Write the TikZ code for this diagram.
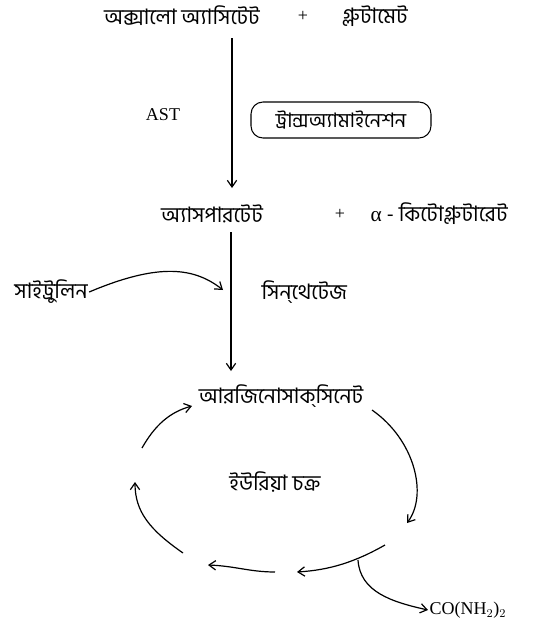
\documentclass[tikz,border=0pt]{standalone}
\usepackage{fontspec}
\setmainfont{Liberation Serif}
\newfontfamily\bnfont[Script=Bengali]{Hind Siliguri}
\usepackage{tikz}
\usetikzlibrary{arrows.meta, positioning}

\begin{document}
\begin{tikzpicture}[
    x=0.75pt, y=-0.75pt,
    bn/.style={font=\bnfont\fontsize{16}{18}\selectfont, inner sep=1pt},
    lat/.style={font=\fontsize{13.5}{15}\selectfont, inner sep=1pt},
    enzbox/.style={rectangle, draw=black, thick, rounded corners=9pt,
                   minimum width=135pt, minimum height=27pt, inner sep=2pt,
                   font=\bnfont\fontsize{15}{17}\selectfont},
    arrow/.style={-{Straight Barb[length=5pt, width=7pt]}, line width=0.9pt, draw=black}
]

\useasboundingbox (0,0) rectangle (544,629);

%% --- TRANSAMINATION STEP ---
\node[bn] (oxalo) at (182,16) {অক্সালো অ্যাসিটেট};
\node[lat] (plusa) at (303,16) {+};
\node[bn] (glut) at (375,16) {গ্লুটামেট};
\node[lat] (ast) at (163,115) {AST};
\node[enzbox] (trans) at (341,120) {ট্রান্সঅ্যামাইনেশন};

%% --- PRODUCTS ---
\node[bn] (asp) at (212,214) {অ্যাসপারটেট};
\node[lat] (plusb) at (340,214) {+};
\node[bn, anchor=west] (akg) at (369,214) {{\rmfamily α} - কিটোগ্লুটারেট};

%% --- SYNTHETASE STEP ---
\node[bn] (citr) at (51,292) {সাইট্রুলিন};
\node[bn, anchor=west] (synth) at (260,292) {সিন্^^^^200cথেটেজ};
\node[bn] (argsuc) at (281,396) {আরজিনোসাক্^^^^200cসিনেট};

%% --- UREA CYCLE ---
\node[bn] (urea) at (275,482) {ইউরিয়া চক্র};
\node[lat, anchor=west] (urea_out) at (428,610) {CO(NH$_2$)$_2$};

%% --- FREE ENDS ---
\coordinate (s1) at (232,38);
\coordinate (t1) at (232,188);
\coordinate (s2) at (231,232);
\coordinate (t2) at (231,371);
\coordinate (c1) at (223,290);
\coordinate (r1) at (372,410);
\coordinate (r2) at (407,523);
\coordinate (b1) at (385,545);
\coordinate (b2) at (297,572);
\coordinate (b3) at (275,572);
\coordinate (b4) at (208,565);
\coordinate (l1) at (183,553);
\coordinate (l2) at (135,482);
\coordinate (l3) at (142,448);
\coordinate (l4) at (192,406);
\coordinate (br) at (358,560);

%% --- ARROWS: main pathway ---
\draw[arrow] (s1) -- (t1);
\draw[arrow] (s2) -- (t2);
\draw[arrow] (citr.east) .. controls (160,262) and (195,268) .. (c1);

%% --- ARROWS: cycle ---
\draw[arrow] (r1) .. controls (415,440) and (428,495) .. (r2);
\draw[arrow] (b1) .. controls (355,562) and (330,570) .. (b2);
\draw[arrow] (b3) .. controls (250,572) and (235,566) .. (b4);
\draw[arrow] (l1) .. controls (150,530) and (135,512) .. (l2);
\draw[arrow] (l3) .. controls (155,425) and (170,412) .. (l4);
\draw[arrow] (br) .. controls (360,592) and (392,602) .. (urea_out.west);

\end{tikzpicture}
\end{document}
